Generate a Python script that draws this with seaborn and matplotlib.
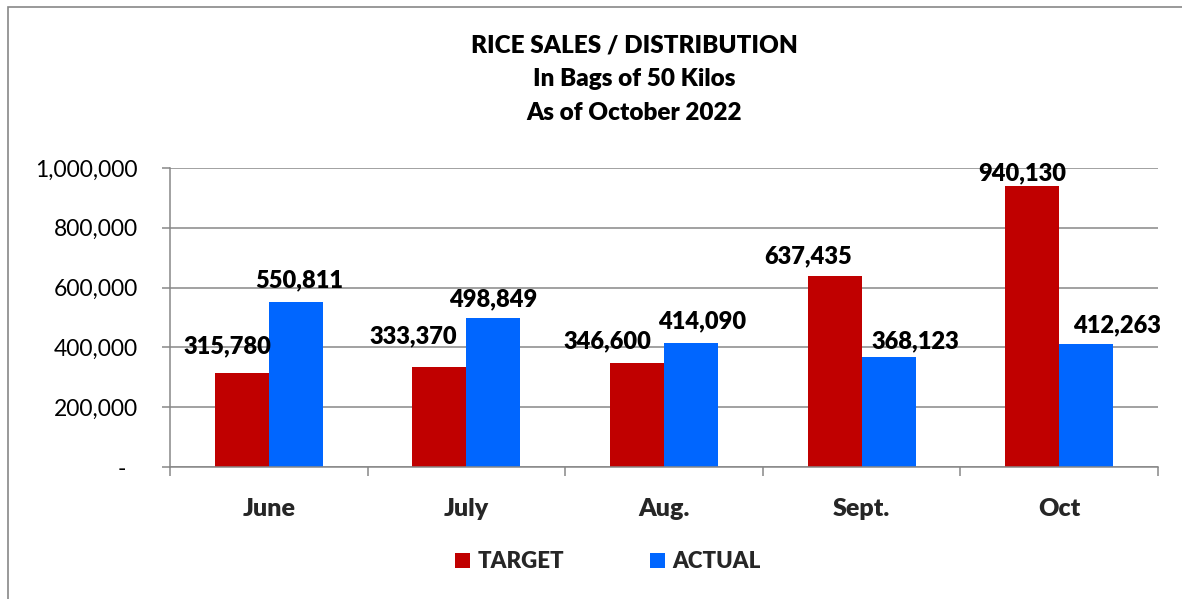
import matplotlib
matplotlib.use("Agg")
import matplotlib.pyplot as plt
import seaborn as sns
import pandas as pd
from matplotlib.patches import Rectangle
from matplotlib.ticker import FuncFormatter

# ---- data ----
months = ["June", "July", "Aug.", "Sept.", "Oct"]
series_names = ["TARGET", "ACTUAL"]
target = [315780, 333370, 346600, 637435, 940130]
actual = [550811, 498849, 414090, 368123, 412263]
title_lines = ["RICE SALES / DISTRIBUTION", "In Bags of 50 Kilos", "As of October 2022"]

# label placement offsets in pixels (dx, dy above bar top to baseline)
target_offsets = [(-14, 19), (-26, 24), (-30, 15), (-26, 13), (-10, 6)]
actual_offsets = [(3, 15), (0, 12), (11, 15), (27, 9), (31, 11)]

colors = ["#C00000", "#0066FF"]
grid_gray = "#878787"
BOLD = "heavy"

df = pd.DataFrame({
    "month": months * 2,
    "value": target + actual,
    "series": [series_names[0]] * len(months) + [series_names[1]] * len(months),
})

sns.set_theme(style="white")
plt.rcParams["font.family"] = ["Lato", "DejaVu Sans"]

W, H = 1182, 599
fig = plt.figure(figsize=(W / 100, H / 100), dpi=100)
ax = fig.add_axes([170 / W, 1 - 467 / H, (1158 - 170) / W, (467 - 168) / H])

sns.barplot(data=df, x="month", y="value", hue="series", order=months,
            hue_order=series_names, palette=colors, width=0.547, gap=0,
            saturation=1, ax=ax, legend=True, linewidth=0)

ax.set_ylim(0, 1000000)
ax.set_xlim(-0.5, len(months) - 0.5)
ax.set_yticks(range(0, 1000001, 200000))
ax.yaxis.set_major_formatter(FuncFormatter(lambda v, p: "-  " if v == 0 else f"{v:,.0f}"))
ax.set_xlabel("")
ax.set_ylabel("")

ax.grid(axis="y", color=grid_gray, linewidth=1.1)
ax.set_axisbelow(True)
for s in ["top", "right"]:
    ax.spines[s].set_visible(False)
for s in ["left", "bottom"]:
    ax.spines[s].set_color(grid_gray)
    ax.spines[s].set_linewidth(1.1)

ax.tick_params(axis="y", which="major", direction="out", length=6, width=1.1,
               color=grid_gray, left=True, pad=17, labelsize=16.5, labelcolor="black")
ax.tick_params(axis="x", which="major", length=0, pad=22, labelsize=18)
for t in ax.get_xticklabels():
    t.set_fontweight(BOLD)
ax.set_xticks([i - 0.5 for i in range(len(months) + 1)], minor=True)
ax.tick_params(axis="x", which="minor", direction="out", length=6.5, width=1.1,
               color=grid_gray, bottom=True)

# value labels
for cont, offs in zip(ax.containers, [target_offsets, actual_offsets]):
    for bar, (dx, dy) in zip(cont, offs):
        h = bar.get_height()
        ax.annotate(f"{h:,.0f}", (bar.get_x() + bar.get_width() / 2, h),
                    xytext=(dx, dy), textcoords="offset pixels",
                    ha="center", va="baseline", fontsize=17, fontweight=BOLD,
                    color="black")

# title
for line, base in zip(title_lines, [52, 86.5, 120]):
    fig.text(634 / W, 1 - base / H, line, ha="center", va="baseline",
             fontsize=17.5, fontweight=BOLD, color="black")

# legend
handles, labels = ax.get_legend_handles_labels()
if ax.get_legend() is not None:
    ax.get_legend().remove()
leg = fig.legend(handles, labels, loc="center", bbox_to_anchor=(608 / W, 1 - 562 / H),
                 ncol=2, frameon=False, fontsize=16,
                 handlelength=0.68, handleheight=0.68, handletextpad=0.35,
                 columnspacing=3.85, borderpad=0)
for t in leg.get_texts():
    t.set_fontweight(BOLD)

# outer border (chart area)
fig.patches.append(Rectangle((8 / W, -0.05), 1.05, 1.05 - 7 / H,
                             transform=fig.transFigure, fill=False,
                             edgecolor=grid_gray, linewidth=1.2))

fig.savefig("out.png", dpi=100)
